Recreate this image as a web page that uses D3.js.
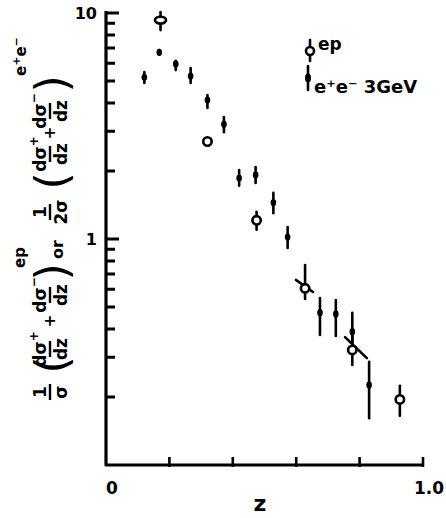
<!DOCTYPE html>
<html>
<head>
<meta charset="utf-8">
<script src="https://cdn.jsdelivr.net/npm/d3@7"></script>
<style>
  html, body { margin: 0; padding: 0; background: #fff; }
  svg { display: block; }
  text { font-family: "DejaVu Sans", sans-serif; fill: #000; }
</style>
</head>
<body>
<svg id="chart" width="446" height="518"></svg>
<script>
// ---- data ----
const epZ  = [0.172, 0.320, 0.475, 0.628, 0.777, 0.927];
const epY  = [9.3, 2.70, 1.21, 0.605, 0.323, 0.195];
const epLo = [8.4, 2.62, 1.10, 0.543, 0.277, 0.165];
const epHi = [10.1, 2.78, 1.32, 0.767, 0.389, 0.224];

const eeZ  = [0.121, 0.168, 0.220, 0.267, 0.320, 0.372, 0.420, 0.472, 0.528, 0.573, 0.675, 0.725, 0.777, 0.830];
const eeY  = [5.19, 6.70, 5.95, 5.26, 4.12, 3.22, 1.86, 1.92, 1.45, 1.02, 0.472, 0.466, 0.389, 0.226];
const eeLo = [4.90, 6.55, 5.59, 4.90, 3.80, 2.97, 1.72, 1.77, 1.30, 0.912, 0.376, 0.372, 0.340, 0.161];
const eeHi = [5.48, 6.85, 6.14, 5.70, 4.34, 3.46, 2.02, 2.08, 1.60, 1.13, 0.548, 0.537, 0.471, 0.286];

// short curve pieces drawn through two ep points
const fitZ = [[0.599, 0.653], [0.754, 0.823]];
const fitY = [[0.659, 0.583], [0.368, 0.297]];

const xTickValues = [0.2, 0.4, 0.6, 0.8, 1.0];
const xLabelValues = [0, 1];
const xTickLabels = ["0", "1.0"];
const yMajor = [10, 1];
const yMajorLabels = ["10", "1"];
const yMinor = [0.2,0.3,0.4,0.5,0.6,0.7,0.8,0.9,2,3,4,5,6,7,8,9];

const legendLabels = ["ep", "e\u207Ae\u207B 3GeV"];

// ---- scales ----
const svg = d3.select("#chart");
const x = d3.scaleLinear().domain([0, 1]).range([106, 423]);
const y = d3.scaleLog().domain([0.1, 10]).range([465, 13]);

const x0 = x(0), yb = y(0.1);

// ---- y axis ticks (inward) ----
const tp = d3.path();
yMajor.forEach(d => { tp.moveTo(x0, y(d)); tp.lineTo(x0 + 13, y(d)); });
yMinor.forEach(d => { tp.moveTo(x0, y(d)); tp.lineTo(x0 + 9, y(d)); });
svg.append("path").attr("d", tp.toString())
  .attr("fill", "none").attr("stroke", "#000").attr("stroke-width", 3);

// ---- x axis ticks (inward) ----
const xp = d3.path();
xTickValues.forEach(d => { xp.moveTo(x(d), yb + 2); xp.lineTo(x(d), yb - 8); });
svg.append("path").attr("d", xp.toString())
  .attr("fill", "none").attr("stroke", "#000").attr("stroke-width", 2.6);

// axis lines
svg.append("path")
  .attr("d", `M${x0},${y(10) - 2}V${yb}H${x(1) + 1}`)
  .attr("fill", "none").attr("stroke", "#000").attr("stroke-width", 3.2)
  .attr("stroke-linejoin", "round");

// y labels
svg.append("g").selectAll("text").data(yMajor).join("text")
  .attr("x", x0 - 9).attr("y", d => y(d)).attr("dy", "0.35em")
  .attr("text-anchor", "end").attr("font-size", 16).attr("font-weight", "bold")
  .text((d, i) => yMajorLabels[i]);

// x labels
svg.append("g").selectAll("text").data(xLabelValues).join("text")
  .attr("x", d => x(d) + 6).attr("y", yb + 29)
  .attr("text-anchor", "middle").attr("font-size", 17).attr("font-weight", "bold")
  .text((d, i) => xTickLabels[i]);

// x title
svg.append("text").attr("x", 260).attr("y", 511).attr("text-anchor", "middle")
  .attr("font-size", 22).attr("font-weight", "bold").text("z");

// ---- y title (rotated, hand-written style fractions) ----
const lab = svg.append("g").attr("transform", "translate(50,402) rotate(-90)")
  .attr("font-family", "DejaVu Sans Condensed, DejaVu Sans, sans-serif");
const FS = 17;
function frac(u, num, sup, den) {
  const t = lab.append("text").attr("x", u).attr("y", -4).attr("text-anchor", "middle")
    .attr("font-size", FS).attr("font-weight", "bold").attr("font-family", "inherit");
  t.append("tspan").text(num);
  if (sup) t.append("tspan").attr("dy", -8).attr("font-size", 12).text(sup);
  lab.append("text").attr("x", u).attr("y", 17).attr("text-anchor", "middle")
    .attr("font-size", FS).attr("font-weight", "bold").attr("font-family", "inherit").text(den);
  const w = 16;
  lab.append("line").attr("x1", u - w / 2).attr("x2", u + w / 2)
    .attr("y1", 0).attr("y2", 0).attr("stroke", "#000").attr("stroke-width", 2.4);
}
function sym(u, v, s, fs, wt) {
  lab.append("text").attr("x", u).attr("y", v).attr("text-anchor", "middle")
    .attr("font-size", fs).attr("font-weight", wt).attr("dy", "0.35em")
    .attr("font-family", "inherit").text(s);
}
frac(10, "1", null, "\u03C3");
sym(37, 2, "(", 44, "normal");
frac(53, "d\u03C3", "+", "dz");
sym(81, 0, "+", 15, "bold");
frac(107, "d\u03C3", "\u2212", "dz");
sym(130, 2, ")", 44, "normal");
lab.append("text").attr("x", 134).attr("y", -25).attr("font-size", 15)
  .attr("font-weight", "bold").attr("font-family", "inherit").text("ep");
lab.append("text").attr("x", 143).attr("y", 13).attr("font-size", 16)
  .attr("font-weight", "bold").attr("font-family", "inherit").text("or");
frac(190, "1", null, "2\u03C3");
sym(221, 2, "(", 44, "normal");
frac(248, "d\u03C3", "+", "dz");
sym(269, 0, "+", 15, "bold");
frac(291, "d\u03C3", "\u2212", "dz");
sym(318, 2, ")", 44, "normal");
const ees = lab.append("text").attr("x", 326).attr("y", -24).attr("font-size", 15)
  .attr("font-weight", "bold").attr("font-family", "inherit");
ees.append("tspan").text("e");
ees.append("tspan").attr("dy", -6).attr("font-size", 11).text("+");
ees.append("tspan").attr("dy", 6).text("e");
ees.append("tspan").attr("dy", -6).attr("font-size", 11).text("\u2212");

// ---- fit pieces ----
const line = d3.line().x(d => x(d[0])).y(d => y(d[1]));
fitZ.forEach((zz, i) => {
  svg.append("path").datum(zz.map((z, j) => [z, fitY[i][j]]))
    .attr("d", line).attr("fill", "none").attr("stroke", "#000")
    .attr("stroke-width", 2.6).attr("stroke-linecap", "round");
});

// ---- e+e- points (filled) ----
const ee = eeZ.map((z, i) => ({ z, v: eeY[i], lo: eeLo[i], hi: eeHi[i] }));
const gee = svg.append("g");
gee.selectAll("line").data(ee).join("line")
  .attr("x1", d => x(d.z)).attr("x2", d => x(d.z))
  .attr("y1", d => y(d.hi)).attr("y2", d => y(d.lo))
  .attr("stroke", "#000").attr("stroke-width", 2.6).attr("stroke-linecap", "round");
gee.selectAll("ellipse").data(ee).join("ellipse")
  .attr("cx", d => x(d.z)).attr("cy", d => y(d.v))
  .attr("rx", 2.8).attr("ry", 3.6).attr("fill", "#000");

// ---- ep points (open) ----
const ep = epZ.map((z, i) => ({ z, v: epY[i], lo: epLo[i], hi: epHi[i] }));
const gep = svg.append("g");
gep.selectAll("line").data(ep).join("line")
  .attr("x1", d => x(d.z)).attr("x2", d => x(d.z))
  .attr("y1", d => y(d.hi)).attr("y2", d => y(d.lo))
  .attr("stroke", "#000").attr("stroke-width", 2.6).attr("stroke-linecap", "round");
gep.selectAll("ellipse").data(ep).join("ellipse")
  .attr("cx", d => x(d.z)).attr("cy", d => y(d.v))
  .attr("rx", (d, i) => i === 0 ? 5.5 : 4.2).attr("ry", (d, i) => i === 0 ? 3.4 : 4.2)
  .attr("fill", "#fff").attr("stroke", "#000").attr("stroke-width", 2.6);

// ---- legend ----
const lg = svg.append("g");
lg.append("line").attr("x1", 310).attr("x2", 310).attr("y1", 40).attr("y2", 61)
  .attr("stroke", "#000").attr("stroke-width", 2.6).attr("stroke-linecap", "round");
lg.append("circle").attr("cx", 310).attr("cy", 51).attr("r", 4)
  .attr("fill", "#fff").attr("stroke", "#000").attr("stroke-width", 2.6);
lg.append("text").attr("x", 318).attr("y", 50).attr("font-size", 17)
  .attr("font-weight", "bold").text(legendLabels[0]);
lg.append("line").attr("x1", 308).attr("x2", 308).attr("y1", 66).attr("y2", 90)
  .attr("stroke", "#000").attr("stroke-width", 2.6).attr("stroke-linecap", "round");
lg.append("ellipse").attr("cx", 308).attr("cy", 78).attr("rx", 3).attr("ry", 4.5)
  .attr("fill", "#000");
lg.append("text").attr("x", 314).attr("y", 93).attr("font-size", 18)
  .attr("font-weight", "bold").text(legendLabels[1]);
</script>
</body>
</html>
